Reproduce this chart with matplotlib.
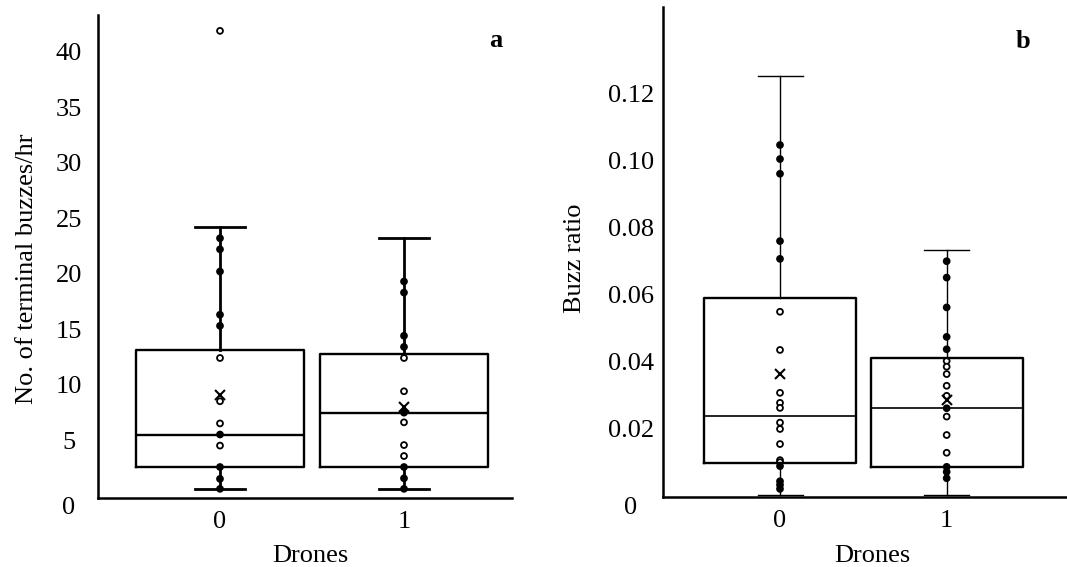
import matplotlib.pyplot as plt
from matplotlib.transforms import ScaledTranslation
import numpy as np

plt.rcParams['font.family'] = ['Liberation Serif', 'DejaVu Serif']
plt.rcParams['font.size'] = 19

drones = [0, 1]

# a: number of terminal buzzes per hour
buzz_q1 = [2.57, 2.57]
buzz_med = [5.5, 7.47]
buzz_q3 = [13.1, 12.8]
buzz_lo = [0.6, 0.6]
buzz_hi = [24.2, 23.2]
buzz_mean = [9.06, 8.0]
buzz_pts_0 = [41.9, 23.2, 22.2, 20.2, 16.3, 15.3, 12.4, 8.5, 6.5, 5.5, 4.5,
              2.57, 1.5, 0.6]
buzz_pts_1 = [19.3, 18.3, 14.4, 13.4, 12.4, 9.4, 7.47, 6.6, 4.55, 3.56,
              2.57, 1.55, 0.6]

# b: buzz ratio
ratio_q1 = [0.0096, 0.0085]
ratio_med = [0.0238, 0.0260]
ratio_q3 = [0.0588, 0.0409]
ratio_lo = [0.0001, 0.0001]
ratio_hi = [0.1253, 0.0732]
ratio_mean = [0.0361, 0.0284]
ratio_pts_0 = [0.1046, 0.1004, 0.0960, 0.0759, 0.0706, 0.0548, 0.0434,
               0.0306, 0.0276, 0.0261, 0.0217, 0.0198, 0.0153, 0.0105,
               0.0099, 0.0087, 0.0042, 0.0031, 0.0019]
ratio_pts_1 = [0.0699, 0.0650, 0.0561, 0.0473, 0.0436, 0.0401, 0.0384,
               0.0362, 0.0327, 0.0297, 0.0260, 0.0235, 0.0180, 0.0127,
               0.0085, 0.0070, 0.0051]


def draw_panel(ax, q1, med, q3, lo, hi, mean, points, box_lw, whisk_lw, med_lw):
    stats = []
    for i in range(len(drones)):
        stats.append(dict(q1=q1[i], med=med[i], q3=q3[i], whislo=lo[i],
                          whishi=hi[i], mean=mean[i], fliers=[]))
    ax.bxp(stats, positions=drones, widths=0.91, capwidths=0.27,
           showmeans=True, showfliers=False,
           boxprops=dict(color='black', linewidth=box_lw),
           whiskerprops=dict(color='black', linewidth=whisk_lw),
           capprops=dict(color='black', linewidth=whisk_lw),
           medianprops=dict(color='black', linewidth=med_lw),
           meanprops=dict(marker='x', markeredgecolor='black',
                          markersize=7, markeredgewidth=1.5))
    for i, pts in enumerate(points):
        pts = np.array(pts)
        eps = 1e-9
        on_line = (((pts <= q1[i] + eps) & (pts >= lo[i] - eps))
                   | ((pts >= q3[i] - eps) & (pts <= hi[i] + eps))
                   | (np.abs(pts - med[i]) < eps))
        faces = ['black' if f else 'white' for f in on_line]
        ax.scatter(np.full(len(pts), drones[i]), pts, s=18, facecolors=faces,
                   edgecolors='black', linewidths=1.3, zorder=1.5)
    for side in ['top', 'right']:
        ax.spines[side].set_visible(False)
    for side in ['left', 'bottom']:
        ax.spines[side].set_linewidth(1.8)
    ax.set_xticks(drones)
    ax.set_xticklabels([str(d) for d in drones])
    ax.tick_params(axis='x', length=0, pad=9)


fig = plt.figure(figsize=(10.67, 5.67), dpi=100)
W, H = 1067, 567

ax1 = fig.add_axes([98 / W, 1 - 498 / H, (512 - 98) / W, (498 - 15) / H])
draw_panel(ax1, buzz_q1, buzz_med, buzz_q3, buzz_lo, buzz_hi, buzz_mean,
           [buzz_pts_0, buzz_pts_1], 1.7, 2.0, 1.7)
ax1.set_xlim(-0.663, 1.587)
ax1.set_ylim(-0.225, 43.33)
ax1.set_yticks(np.arange(0, 41, 5))
ax1.set_yticklabels([str(v) for v in range(0, 41, 5)])
ax1.tick_params(axis='y', length=0, pad=20.9)

ax2 = fig.add_axes([663 / W, 1 - 497.3 / H, (W - 663) / W, (497.3 - 7) / H])
draw_panel(ax2, ratio_q1, ratio_med, ratio_q3, ratio_lo, ratio_hi, ratio_mean,
           [ratio_pts_0, ratio_pts_1], 1.7, 1.0, 1.2)
ax2.set_xlim(-0.702, 1.722)
ax2.set_ylim(-0.0006, 0.1458)
ratio_ticks = [0, 0.02, 0.04, 0.06, 0.08, 0.10, 0.12]
ax2.set_yticks(ratio_ticks)
ax2.set_yticklabels(['0'] + [f'{v:.2f}' for v in ratio_ticks[1:]])
ax2.tick_params(axis='y', length=0, pad=23)

for ax in [ax1, ax2]:
    for lab in ax.get_yticklabels():
        lab.set_horizontalalignment('center')
    zero = ax.yaxis.get_major_ticks()[0].label1
    zero.set_transform(zero.get_transform()
                       + ScaledTranslation(0, -10 / 100, fig.dpi_scale_trans))

fig.text(27 / W, 1 - 269 / H, 'No. of terminal buzzes/hr', rotation=90,
         ha='center', va='center')
fig.text(575 / W, 1 - 258 / H, 'Buzz ratio', rotation=90,
         ha='center', va='center')
fig.text(310.5 / W, 1 - 561.7 / H, 'Drones', ha='center', va='baseline')
fig.text(872 / W, 1 - 561.7 / H, 'Drones', ha='center', va='baseline')
fig.text(495.5 / W, 1 - 46.7 / H, 'a', ha='center', va='baseline',
         fontweight='bold')
fig.text(1023 / W, 1 - 48 / H, 'b', ha='center', va='baseline',
         fontweight='bold')

fig.savefig('out.png', dpi=100)
